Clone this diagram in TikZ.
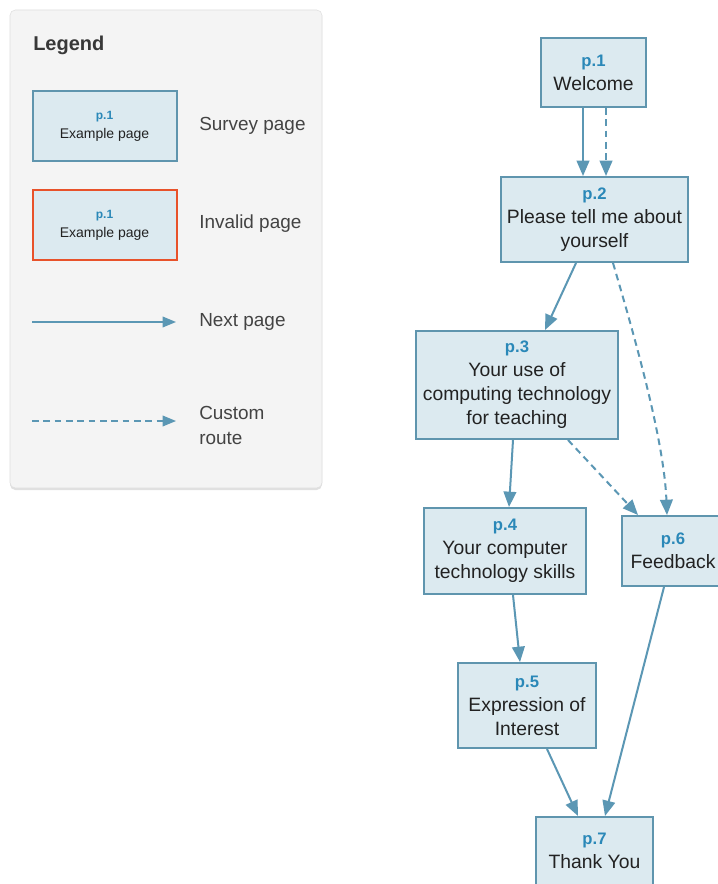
\documentclass[tikz,border=0pt]{standalone}
\usepackage{fontspec}
\setmainfont{Liberation Sans}
\usetikzlibrary{
    arrows.meta,
    calc
}

\definecolor{boxfill}{HTML}{DCEAF0}
\definecolor{boxline}{HTML}{5F95AE}
\definecolor{edgeblue}{HTML}{5B97B4}
\definecolor{numblue}{HTML}{2A88B8}
\definecolor{badred}{HTML}{E8522A}
\definecolor{panelgray}{HTML}{F4F4F4}
\definecolor{panelline}{HTML}{DEDEDE}
\definecolor{textdark}{HTML}{222222}

\newcommand{\pno}[1]{\textcolor{numblue}{\fontsize{12.5}{18}\selectfont\bfseries #1}}
\newcommand{\lgno}[1]{\textcolor{numblue}{\fontsize{9}{14}\selectfont\bfseries #1}}

\begin{document}
\begin{tikzpicture}[x=0.75pt,y=-0.75pt,
    pagebox/.style={draw=boxline,line width=1.5pt,fill=boxfill,align=center,
        inner sep=0pt,text=textdark,font=\fontsize{14.5}{18}\selectfont},
    lgbox/.style={pagebox,font=\fontsize{10.5}{14}\selectfont,
        minimum width=108pt,minimum height=52.5pt},
    lgtext/.style={anchor=west,align=left,inner sep=0pt,text=textdark!85,
        font=\fontsize{14.2}{19}\selectfont},
    nextedge/.style={draw=edgeblue,line width=1.5pt,
        -{Triangle[length=11.5pt,width=9.5pt]}},
    customedge/.style={nextedge,dash pattern=on 5pt off 3.5pt}
]
\useasboundingbox (0,0) rectangle (717,884);
\fill[white] (0,0) rectangle (717,884);

% Legend panel
\fill[black!12,rounded corners=4pt] (10,11.5) rectangle (322,490);
\draw[panelline,fill=panelgray,rounded corners=4pt] (10,10) rectangle (322,488);
\node[anchor=west,inner sep=0pt,text=textdark!90,font=\fontsize{15}{18}\selectfont\bfseries] (lgtitle) at (33,45) {Legend};

% Legend entries
\node[lgbox] (lgsurvey) at (104.5,126) {\lgno{p.1}\\Example page};
\node[lgtext] (lgsurveytxt) at (199,126) {Survey page};
\node[lgbox,draw=badred] (lginvalid) at (104.5,225) {\lgno{p.1}\\Example page};
\node[lgtext] (lginvalidtxt) at (199,224) {Invalid page};

\coordinate (lgnexta) at (32,322);
\coordinate (lgnextb) at (176,322);
\draw[nextedge,line width=1pt,-{Triangle[length=10pt,width=8pt]}] (lgnexta) -- (lgnextb);
\node[lgtext] (lgnexttxt) at (199,322) {Next page};

\coordinate (lgcusta) at (32,421);
\coordinate (lgcustb) at (176,421);
\draw[customedge,line width=1pt,-{Triangle[length=10pt,width=8pt]}] (lgcusta) -- (lgcustb);
\node[lgtext] (lgcusttxt) at (199,425.5) {Custom\\route};

% Survey pages
\node[pagebox,minimum width=78.75pt,minimum height=51.75pt] (p1) at (593.5,72.5) {\pno{p.1}\\Welcome};
\node[pagebox,minimum width=140.25pt,minimum height=63.75pt] (p2) at (594.5,219.5) {\pno{p.2}\\Please tell me about\\yourself};
\node[pagebox,minimum width=151.5pt,minimum height=81pt] (p3) at (517,385) {\pno{p.3}\\Your use of\\computing technology\\for teaching};
\node[pagebox,minimum width=121.5pt,minimum height=64.5pt] (p4) at (505,551) {\pno{p.4}\\Your computer\\technology skills};
\node[pagebox,minimum width=76.5pt,minimum height=52.5pt] (p6) at (673,551) {\pno{p.6}\\Feedback};
\node[pagebox,minimum width=103.5pt,minimum height=63.75pt] (p5) at (527,705.5) {\pno{p.5}\\Expression of\\Interest};
\node[pagebox,minimum width=87.75pt,minimum height=51pt] (p7) at (594.5,851) {\pno{p.7}\\Thank You};

% Next page links
\draw[nextedge] ($(p1.south)+(-10.5,0)$) -- ($(p2.north)+(-11.5,0)$);
\draw[nextedge] ($(p2.south)+(-18.5,0)$) -- ($(p3.north)+(28,0)$);
\draw[nextedge] ($(p3.south)+(-4,0)$) -- ($(p4.north)+(4,0)$);
\draw[nextedge] ($(p4.south)+(8,0)$) -- ($(p5.north)+(-7,0)$);
\draw[nextedge] ($(p5.south)+(20,0)$) -- ($(p7.north)+(-16.5,0)$);
\draw[nextedge] ($(p6.south)+(-9,0)$) -- ($(p7.north)+(10.5,0)$);

% Custom routes
\draw[customedge] ($(p1.south)+(12.5,0)$) -- ($(p2.north)+(11.5,0)$);
\draw[customedge] ($(p2.south)+(18.5,0)$) .. controls +(22,75) and +(-3,-75) .. ($(p6.north)+(-6,0)$);
\draw[customedge] ($(p3.south)+(51,0)$) -- ($(p6.north)+(-35,0)$);

\end{tikzpicture}
\end{document}
